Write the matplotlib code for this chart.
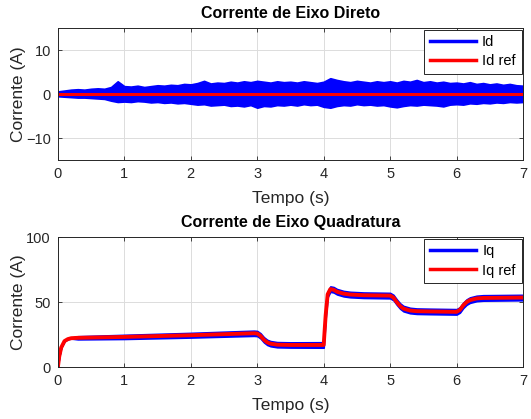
import numpy as np
import matplotlib.pyplot as plt

plt.rcParams['font.family'] = ['Liberation Sans', 'DejaVu Sans']

# Id: envelope of the measured (noisy) current, read every 0.1 s off the picture
id_t = [round(0.1 * k, 1) for k in range(71)]
id_upper = [0.6, 0.8, 1.0, 1.1, 1.0, 1.2, 1.3, 1.2, 1.6, 2.9,
            1.8, 1.7, 1.9, 1.6, 1.8, 2.0, 1.9, 2.1, 2.0, 2.3,
            2.2, 2.5, 3.0, 2.4, 2.6, 2.5, 2.8, 2.6, 2.9, 2.7,
            3.0, 2.8, 2.6, 2.9, 2.7, 2.8, 2.6, 2.9, 2.7, 2.5,
            2.8, 3.6, 3.2, 2.9, 2.7, 3.0, 2.8, 2.6, 2.9, 2.7,
            2.9, 2.6, 3.0, 2.8, 3.2, 2.7, 2.9, 2.6, 2.8, 2.5,
            2.6, 2.4, 2.7, 2.3, 2.5, 2.2, 2.4, 2.1, 2.3, 2.0,
            1.9]
id_lower = [-0.5, -0.6, -0.7, -0.8, -0.8, -0.9, -1.0, -1.1, -1.5, -1.8,
            -1.7, -1.8, -1.6, -1.7, -1.9, -1.8, -2.0, -1.9, -2.1, -2.0,
            -2.2, -2.4, -2.3, -2.6, -2.5, -2.4, -2.7, -2.6, -2.8, -2.5,
            -3.1, -2.7, -2.8, -2.5, -2.6, -2.4, -2.6, -2.3, -2.5, -2.4,
            -2.9, -3.1, -2.7, -2.5, -2.6, -2.3, -2.5, -2.4, -2.6, -2.5,
            -2.8, -3.0, -2.7, -2.5, -2.6, -2.4, -2.5, -2.6, -2.8, -2.4,
            -2.3, -2.4, -2.1, -2.2, -2.0, -2.1, -1.9, -2.0, -1.8, -1.9,
            -1.8]
id_ref_t = [0, 7]
id_ref = [0, 0]

# Iq: reference and half-width of the noise band around the measured current
iq_t = [0, 0.02, 0.05, 0.1, 0.15, 0.2, 0.3, 1.0, 2.0, 2.95, 3.0, 3.05, 3.1, 3.15, 3.2, 3.3,
        3.5, 3.99, 4.0, 4.03, 4.06, 4.1, 4.15, 4.2, 4.3, 4.4, 4.6, 5.0, 5.05, 5.1, 5.15,
        5.2, 5.3, 5.4, 5.6, 6.0, 6.05, 6.1, 6.15, 6.2, 6.3, 6.4, 7.0]
iq_ref = [0, 8, 15, 20, 21.5, 22.2, 22.5, 23.2, 24.5, 26, 25.8, 24, 21, 19, 18, 17.2,
          17, 17, 17, 40, 56, 60, 59.5, 58, 56.5, 55.8, 55.3, 55, 53.5, 50, 47,
          45, 43.5, 43, 42.8, 42.5, 44, 47.5, 50, 51.5, 52.8, 53.2, 53.5]
iq_noise = [0, 0, 0, 0, 0, 0.3, 1.2, 1.6, 1.8, 2.0, 2.0, 2.0, 2.0, 2.0, 2.0, 2.0,
            2.0, 2.1, 2.1, 2.1, 2.1, 2.1, 2.1, 2.1, 2.1, 2.1, 2.1, 2.1, 2.1, 2.1, 2.1,
            2.1, 2.1, 2.1, 2.1, 2.1, 2.1, 2.1, 2.1, 2.1, 2.1, 2.1, 2.1]

blue = '#0000ff'
red = '#ff0000'
txt = '#262626'

fig = plt.figure(figsize=(5.31, 4.19), dpi=100)
ax1 = fig.add_axes([0.109, 0.618, 0.876, 0.315])
ax2 = fig.add_axes([0.109, 0.124, 0.876, 0.310])


def style(ax, ylim, yticks):
    ax.set_xlim(0, 7)
    ax.set_ylim(*ylim)
    ax.set_xticks(range(8))
    ax.set_yticks(yticks)
    ax.grid(True, color='#dcdcdc', linewidth=0.7)
    ax.set_axisbelow(True)
    ax.tick_params(direction='in', length=3, colors=txt, labelsize=10.5,
                   top=True, right=True, width=0.6, pad=5)
    for s in ax.spines.values():
        s.set_color(txt)
        s.set_linewidth(0.7)
    ax.set_xlabel('Tempo (s)', fontsize=12.5, color=txt, labelpad=7)
    ax.set_ylabel('Corrente (A)', fontsize=12.5, color=txt, labelpad=0)


def legend(ax, labels):
    h = [plt.Line2D([], [], color=blue, linewidth=2.5),
         plt.Line2D([], [], color=red, linewidth=2.5)]
    leg = ax.legend(h, labels, loc='upper right', fontsize=10.5,
                    fancybox=False, framealpha=1, edgecolor=txt,
                    handlelength=3.2, handletextpad=0.4, borderaxespad=0.1,
                    labelspacing=0.35, borderpad=0.4)
    leg.get_frame().set_linewidth(0.7)


# top: direct axis
ax1.fill_between(id_t, id_lower, id_upper, color=blue, linewidth=1.2, edgecolor=blue)
ax1.plot(id_ref_t, id_ref, color=red, linewidth=2.2)
style(ax1, (-15, 15), [-10, 0, 10])
ax1.set_title('Corrente de Eixo Direto', fontsize=11.5, fontweight='bold', pad=7)
legend(ax1, ['Id', 'Id ref'])

# bottom: quadrature axis
iq_ref_a = np.array(iq_ref)
iq_noise_a = np.array(iq_noise)
ax2.fill_between(iq_t, iq_ref_a - iq_noise_a, iq_ref_a + iq_noise_a,
                 color=blue, linewidth=1.2, edgecolor=blue)
ax2.plot(iq_t, iq_ref, color=red, linewidth=2.8)
style(ax2, (0, 100), [0, 50, 100])
ax2.set_title('Corrente de Eixo Quadratura', fontsize=11.5, fontweight='bold', pad=7)
legend(ax2, ['Iq', 'Iq ref'])

fig.savefig('out.png', dpi=100)
